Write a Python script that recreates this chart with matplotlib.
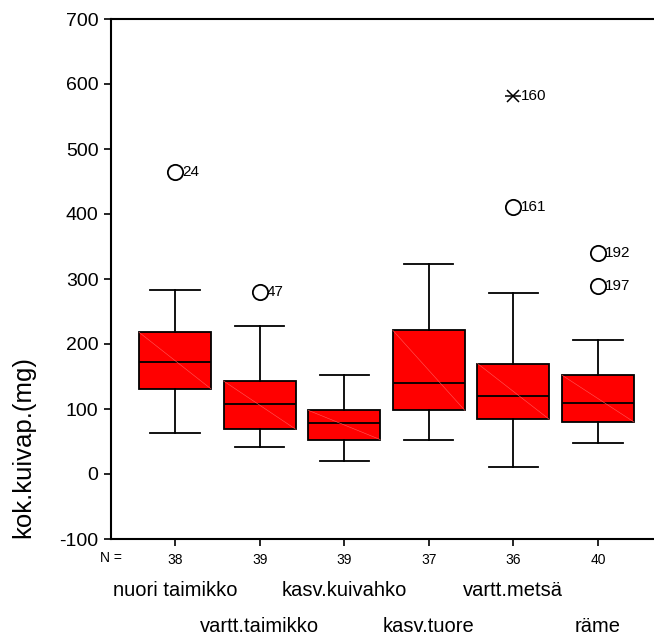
import matplotlib
matplotlib.use("Agg")
import matplotlib.pyplot as plt
import matplotlib.transforms as mtransforms
import numpy as np

plt.rcParams['font.family'] = ['Liberation Sans', 'DejaVu Sans']
plt.rcParams['axes.unicode_minus'] = False

# site types and group sizes
groups = ['nuori taimikko', 'vartt.taimikko', 'kasv.kuivahko',
          'kasv.tuore', 'vartt.metsä', 'räme']
n_obs = [38, 39, 39, 37, 36, 40]

# five-number summaries (mg)
whisk_lo = [63, 42, 20, 53, 11, 48]
q1 = [131, 69, 53, 98, 84, 80]
med = [173, 108, 78, 140, 120, 110]
q3 = [218, 143, 98, 221, 170, 152]
whisk_hi = [283, 227, 152, 323, 278, 206]

# outliers: (group index, value, case id)
out_group = [1, 2, 5, 6, 6]
out_value = [465, 280, 411, 340, 290]
out_id = ['24', '47', '161', '192', '197']
# extremes
ext_group = [5]
ext_value = [582]
ext_id = ['160']

fig = plt.figure(figsize=(6.54, 6.34), dpi=100)
ax = fig.add_axes([111 / 654, 1 - 539 / 634, 1 - 111 / 654, (539 - 19) / 634])

stats = []
for i in range(len(groups)):
    stats.append(dict(med=med[i], q1=q1[i], q3=q3[i],
                      whislo=whisk_lo[i], whishi=whisk_hi[i], fliers=[]))

pos = np.arange(1, len(groups) + 1)
line_kw = dict(color='black', linewidth=1.3)
ax.bxp(stats, positions=pos, widths=0.85, capwidths=0.58, patch_artist=True,
       showfliers=False,
       boxprops=dict(facecolor='#ff0000', edgecolor='black', linewidth=1.3),
       medianprops=line_kw, whiskerprops=line_kw, capprops=line_kw)

# faint diagonal inside each box
for i, p in enumerate(pos):
    ax.plot([p - 0.425, p + 0.425], [q3[i], q1[i]], color='#ff5a5a',
            linewidth=0.4, zorder=3)

ax.plot(out_group, out_value, linestyle='none', marker='o', markersize=11,
        markerfacecolor='white', markeredgecolor='black', markeredgewidth=1.3)
for g, v, t in zip(out_group, out_value, out_id):
    ax.text(g + 0.085, v, t, fontsize=11, va='center', ha='left')

ax.plot(ext_group, ext_value, linestyle='none', marker='x', markersize=8,
        markeredgecolor='black', markeredgewidth=1.1)
ax.plot(ext_group, ext_value, linestyle='none', marker='_', markersize=12,
        markeredgecolor='black', markeredgewidth=1.1)
for g, v, t in zip(ext_group, ext_value, ext_id):
    ax.text(g + 0.085, v, t, fontsize=11, va='center', ha='left')

ax.set_xlim(1 - 64 / 84.6, 6 + 56 / 84.6)
ax.set_ylim(-100, 700)
ax.set_yticks(range(-100, 701, 100))
ax.set_xticks(pos)
ax.set_xticklabels([str(n) for n in n_obs], fontsize=10)
ax.tick_params(axis='y', labelsize=14, length=5, width=1.2, direction='out', pad=4)
ax.tick_params(axis='x', length=5, width=1.2, direction='out', pad=5)
ax.spines['right'].set_visible(False)
for s in ('left', 'top', 'bottom'):
    ax.spines[s].set_linewidth(1.5)

fig.text(23 / 654, 1 - 447 / 634, 'kok.kuivap.(mg)', rotation=90,
         fontsize=18.5, ha='center', va='center')

trans = mtransforms.blended_transform_factory(ax.transData, fig.transFigure)
fig.text(122 / 654, 1 - 558 / 634, 'N =', fontsize=10, ha='right', va='center')
for i, name in enumerate(groups):
    y = 1 - 591 / 634 if i % 2 == 0 else 1 - 626 / 634
    ax.text(pos[i], y, name, transform=trans, fontsize=14.5, ha='center', va='center')

fig.savefig('out.png', dpi=100)
